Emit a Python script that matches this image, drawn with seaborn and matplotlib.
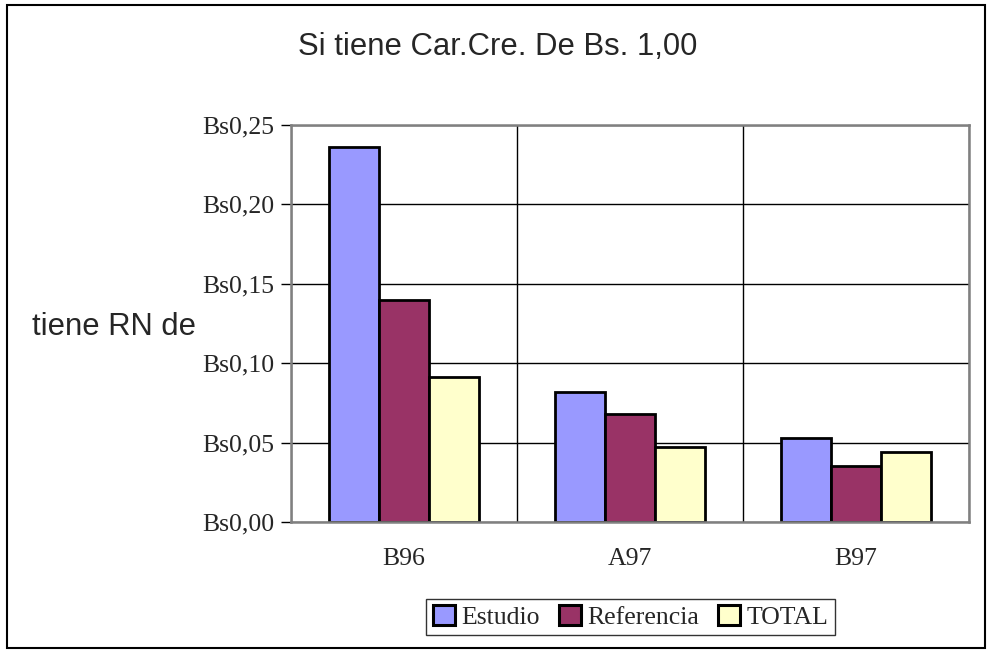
import pandas as pd
import seaborn as sns
import matplotlib.pyplot as plt
from matplotlib.patches import Rectangle
from matplotlib.ticker import FixedLocator

# Data
periodos = ['B96', 'A97', 'B97']
series = ['Estudio', 'Referencia', 'TOTAL']
estudio = [0.236, 0.082, 0.053]
referencia = [0.140, 0.068, 0.035]
total = [0.091, 0.047, 0.044]
y_ticks = [0.00, 0.05, 0.10, 0.15, 0.20, 0.25]
colores = ['#9999FF', '#993366', '#FFFFCC']

df = pd.DataFrame({
    'periodo': periodos * 3,
    'serie': [s for s in series for _ in periodos],
    'valor': estudio + referencia + total,
})

sns.set_style('white')
plt.rcParams['font.family'] = ['Liberation Serif', 'DejaVu Serif']

fig = plt.figure(figsize=(9.91, 6.53), dpi=100)
ax = fig.add_axes([0.2936, 0.2006, 0.6842, 0.6080])

sns.barplot(data=df, x='periodo', y='valor', hue='serie', order=periodos,
            hue_order=series, palette=colores, width=0.667,
            edgecolor='black', linewidth=2.0, saturation=1, ax=ax, legend=True)

ax.set_xlim(-0.5, 2.5)
ax.set_ylim(0, 0.25)
ax.set_yticks(y_ticks)
ax.set_yticklabels([f"Bs{v:.2f}".replace('.', ',') for v in y_ticks], fontsize=18.5)
ax.set_xticks(range(len(periodos)))
ax.set_xticklabels(periodos, fontsize=18.5)
ax.xaxis.set_minor_locator(FixedLocator([-0.5, 0.5, 1.5, 2.5]))
ax.tick_params(axis='x', which='major', length=0, pad=19)
ax.tick_params(axis='x', which='minor', length=7, width=1, color='black', direction='out')
ax.tick_params(axis='y', length=7, width=1, color='black', direction='out', left=True, pad=5)

ax.grid(axis='y', which='major', color='black', linewidth=1)
ax.grid(axis='x', which='minor', color='black', linewidth=1)
ax.set_axisbelow(True)
for s in ax.spines.values():
    s.set_color('#808080')
    s.set_linewidth(1.8)

ax.set_xlabel('')
ax.set_ylabel('')
fig.text(196 / 991, 1 - 335 / 653, 'tiene RN de', ha='right', va='baseline',
         fontsize=22.3, family='Liberation Sans')

fig.text(497.5 / 991, 1 - 55 / 653, 'Si tiene Car.Cre. De Bs. 1,00', ha='center', va='baseline',
         fontsize=22.3, family='Liberation Sans')

handles, labels = ax.get_legend_handles_labels()
ax.get_legend().remove()
for h in handles:
    h.set_linewidth(2.2)
leg = fig.legend(handles, labels, loc='center', bbox_to_anchor=(630.5 / 991, 1 - 617 / 653), ncol=3,
                 fontsize=18.5, frameon=True, fancybox=False, edgecolor='black',
                 handlelength=0.85, handleheight=0.85, handletextpad=0.25,
                 columnspacing=0.75, borderpad=0.25, borderaxespad=0)
leg.get_frame().set_linewidth(1)

fig.patches.append(Rectangle((7 / 991, 5 / 653), 978 / 991, 643 / 653, transform=fig.transFigure,
                             fill=False, edgecolor='black', linewidth=1.5))

fig.savefig('out.png', dpi=100)
